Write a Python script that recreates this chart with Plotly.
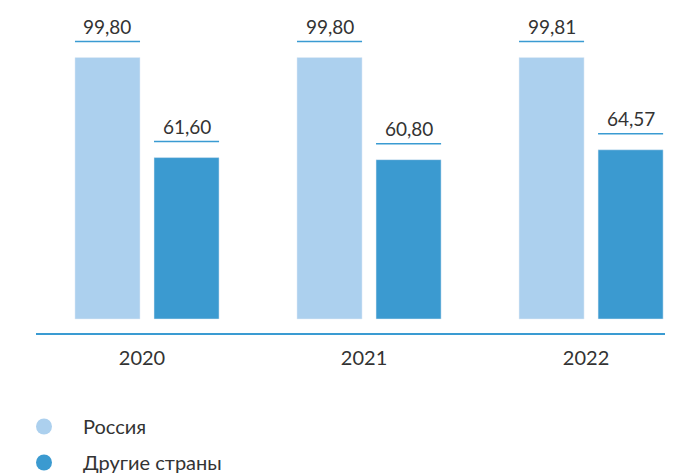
import plotly.graph_objects as go

years = ["2020", "2021", "2022"]
russia = [99.80, 99.80, 99.81]
other = [61.60, 60.80, 64.57]
russia_labels = ["99,80", "99,80", "99,81"]
other_labels = ["61,60", "60,80", "64,57"]

LIGHT = "#acd0ee"
DARK = "#3b9ad0"
LINE = "#3a9bd2"
TXT = "#333333"
FONT = "Lato"

xs = list(range(len(years)))
bw = 0.293
off = 0.178

fig = go.Figure()
fig.add_trace(go.Bar(x=[x - off for x in xs], y=russia, width=bw, marker_color=LIGHT,
                     showlegend=False, hoverinfo="skip"))
fig.add_trace(go.Bar(x=[x + off for x in xs], y=other, width=bw, marker_color=DARK,
                     showlegend=False, hoverinfo="skip"))
# legend entries with round markers
fig.add_trace(go.Scatter(x=[None], y=[None], mode="markers", name="Россия", legendgroup="a",
                         marker=dict(color=LIGHT, size=16, symbol="circle")))
fig.add_trace(go.Scatter(x=[None], y=[None], mode="markers", name="Другие страны", legendgroup="b",
                         marker=dict(color=DARK, size=16, symbol="circle")))

for vals, labs in ((russia, russia_labels), (other, other_labels)):
    sign = -1 if vals is russia else 1
    for x, v, t in zip(xs, vals, labs):
        cx = x + sign * off
        fig.add_shape(type="line", xref="x", yref="y", x0=cx - bw / 2, x1=cx + bw / 2,
                      ysizemode="pixel", yanchor=v, y0=16, y1=16,
                      line=dict(color=LINE, width=1.5))
        fig.add_annotation(x=cx, y=v, text=t, showarrow=False, yshift=31,
                           font=dict(family=FONT, size=19, color=TXT))

fig.update_layout(
    width=675, height=473,
    margin=dict(l=36, r=10, t=10, b=139.5, autoexpand=False),
    plot_bgcolor="white", paper_bgcolor="white",
    barmode="overlay",
    xaxis=dict(range=[-0.5, 2.333], tickvals=xs, ticktext=years, showgrid=False,
               zeroline=False, showline=True, linecolor=LINE, linewidth=2,
               ticks="", tickfont=dict(family=FONT, size=20, color=TXT),
               ticklabelstandoff=6, ticklabelshift=-5),
    yaxis=dict(range=[-5.33, 117.9], visible=False),
    legend=dict(xref="container", yref="container", x=5 / 675, y=1 - 407 / 473,
                xanchor="left", yanchor="top", font=dict(family=FONT, size=20, color=TXT),
                itemsizing="trace", itemwidth=68, tracegroupgap=7),
)

fig.write_html("out.html", config={"displayModeBar": False},
               post_script="document.body.style.margin='0';")
